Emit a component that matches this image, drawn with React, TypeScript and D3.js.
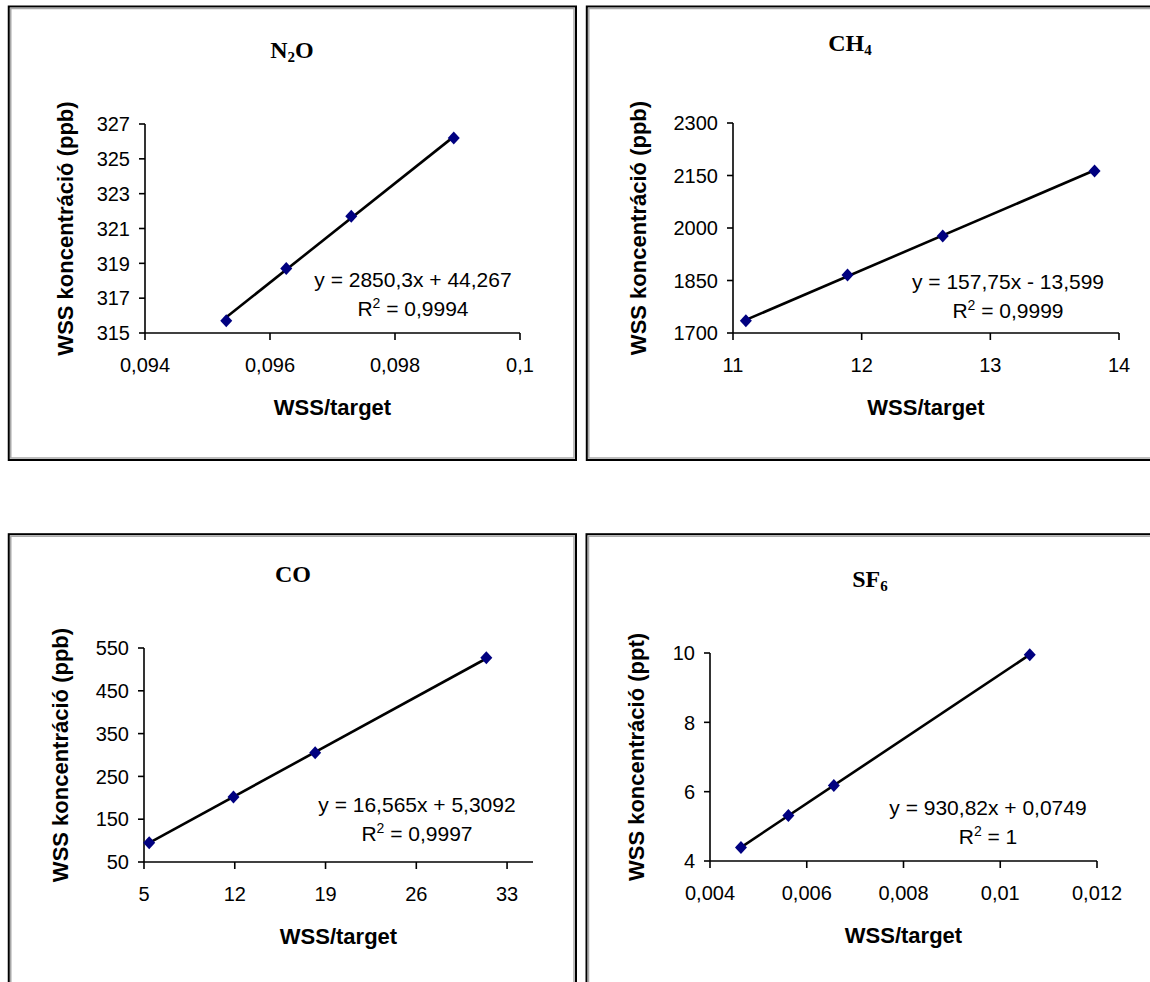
import React from "react";
import * as d3 from "d3";

// Calibration data: WSS/target ratio vs. WSS concentration, with linear fits
const n2oX = [0.0953, 0.09626, 0.0973, 0.09894];
const n2oY = [315.7, 318.7, 321.7, 326.2];
const n2oFit = [2850.3, 44.267];
const n2oR2 = "0,9994";
const n2oXTicks = [0.094, 0.096, 0.098, 0.1];
const n2oYTicks = [315, 317, 319, 321, 323, 325, 327];

const ch4X = [11.1, 11.89, 12.63, 13.81];
const ch4Y = [1735, 1866, 1977, 2163];
const ch4Fit = [157.75, -13.599];
const ch4R2 = "0,9999";
const ch4XTicks = [11, 12, 13, 14];
const ch4YTicks = [1700, 1850, 2000, 2150, 2300];

const coX = [5.4, 11.9, 18.2, 31.4];
const coY = [95, 202, 305, 527];
const coFit = [16.565, 5.3092];
const coR2 = "0,9997";
const coXTicks = [5, 12, 19, 26, 33];
const coYTicks = [50, 150, 250, 350, 450, 550];

const sf6X = [0.00464, 0.00562, 0.00656, 0.01061];
const sf6Y = [4.39, 5.31, 6.18, 9.95];
const sf6Fit = [930.82, 0.0749];
const sf6R2 = "1";
const sf6XTicks = [0.004, 0.006, 0.008, 0.01, 0.012];
const sf6YTicks = [4, 6, 8, 10];

const num = (v: number) => d3.format(".6~g")(v).replace(".", ",").replace("−", "-");

const SANS = "Arial, 'Liberation Sans', sans-serif";
const SERIF = "'Times New Roman', 'Liberation Serif', serif";

type PanelProps = {
  box: [number, number, number, number];
  plot: { left: number; right: number; bottom: number; top: number };
  xDomain: [number, number];
  yDomain: [number, number];
  xTicks: number[];
  yTicks: number[];
  xs: number[];
  ys: number[];
  fit: number[];
  r2: string;
  title: [string, string, string];
  titleX: number;
  titleY: number;
  yLabel: string;
  yLabelX: number;
  eqX: number;
  eqY: number;
};

function Panel(p: PanelProps) {
  const { plot } = p;
  const x = d3.scaleLinear().domain(p.xDomain).range([plot.left, plot.right]);
  const y = d3.scaleLinear().domain(p.yDomain).range([plot.bottom, plot.top]);
  const [slope, intercept] = p.fit;
  const xMin = d3.min(p.xs) as number;
  const xMax = d3.max(p.xs) as number;
  const fitLine = d3.line<number>()
    .x((d) => x(d))
    .y((d) => y(slope * d + intercept))([xMin, xMax]);
  const [bx0, by0, bx1, by1] = p.box;
  const eqText = `y = ${num(slope)}x ${intercept < 0 ? "-" : "+"} ${num(Math.abs(intercept))}`;
  const diamond = "M0,-6.5L6,0L0,6.5L-6,0Z";
  return (
    <g>
      <rect x={bx0} y={by0} width={bx1 - bx0} height={by1 - by0} fill="#fff" stroke="#000" strokeWidth={2} />
      <rect x={bx0 + 2} y={by0 + 2} width={bx1 - bx0 - 4} height={by1 - by0 - 4} fill="none" stroke="#a8a8a8" strokeWidth={1.5} />

      <text x={p.titleX} y={p.titleY} textAnchor="middle" fontFamily={SERIF} fontWeight="bold" fontSize={24}>
        {p.title[0]}
        {p.title[1] && (
          <tspan fontSize={15} dy={4}>{p.title[1]}</tspan>
        )}
        {p.title[2] && <tspan dy={-4}>{p.title[2]}</tspan>}
      </text>

      {/* y axis */}
      <line x1={plot.left} x2={plot.left} y1={plot.top} y2={plot.bottom} stroke="#000" strokeWidth={1.6} />
      {p.yTicks.map((t) => (
        <g key={"y" + t}>
          <line x1={plot.left - 6} x2={plot.left} y1={y(t)} y2={y(t)} stroke="#000" strokeWidth={1.6} />
          <text x={plot.left - 15} y={y(t)} dy="0.36em" textAnchor="end" fontFamily={SANS} fontSize={20}>
            {num(t)}
          </text>
        </g>
      ))}

      {/* x axis */}
      <line x1={plot.left} x2={x(p.xDomain[1])} y1={plot.bottom} y2={plot.bottom} stroke="#000" strokeWidth={1.6} />
      {p.xTicks.map((t) => (
        <g key={"x" + t}>
          <line x1={x(t)} x2={x(t)} y1={plot.bottom} y2={plot.bottom + 7} stroke="#000" strokeWidth={1.6} />
          <text x={x(t)} y={plot.bottom + 39} textAnchor="middle" fontFamily={SANS} fontSize={20}>
            {num(t)}
          </text>
        </g>
      ))}

      <text x={(plot.left + plot.right) / 2} y={plot.bottom + 82} textAnchor="middle" fontFamily={SANS} fontWeight="bold" fontSize={22}>
        WSS/target
      </text>
      <text
        transform={`translate(${p.yLabelX + 5.5},${(plot.top + plot.bottom) / 2}) rotate(-90)`}
        textAnchor="middle"
        fontFamily={SANS}
        fontWeight="bold"
        fontSize={22}
      >
        {p.yLabel}
      </text>

      {/* trendline and samples */}
      <path d={fitLine ?? ""} fill="none" stroke="#000" strokeWidth={2.6} />
      {p.xs.map((v, i) => (
        <path key={"m" + i} d={diamond} transform={`translate(${x(v)},${y(p.ys[i])})`} fill="#000080" />
      ))}

      <text x={p.eqX} y={p.eqY} textAnchor="middle" fontFamily={SANS} fontSize={21}>
        {eqText}
      </text>
      <text x={p.eqX} y={p.eqY + 29} textAnchor="middle" fontFamily={SANS} fontSize={21}>
        R<tspan fontSize={14} dy={-8}>2</tspan>
        <tspan dy={8}>{` = ${p.r2}`}</tspan>
      </text>
    </g>
  );
}

export default function App() {
  return (
    <div style={{ position: "absolute", left: 0, top: 0 }}>
      <svg width={1150} height={982} style={{ display: "block", background: "#fff" }}>
        <Panel
          box={[8.75, 6.5, 576, 460]}
          plot={{ left: 145, right: 520, bottom: 333, top: 124 }}
          xDomain={[0.094, 0.1]}
          yDomain={[315, 327]}
          xTicks={n2oXTicks}
          yTicks={n2oYTicks}
          xs={n2oX}
          ys={n2oY}
          fit={n2oFit}
          r2={n2oR2}
          title={["N", "2", "O"]}
          titleX={292}
          titleY={58}
          yLabel="WSS koncentráció (ppb)"
          yLabelX={67}
          eqX={413}
          eqY={287}
        />
        <Panel
          box={[586.8, 6.5, 1165, 460]}
          plot={{ left: 733, right: 1119, bottom: 333, top: 123 }}
          xDomain={[11, 14]}
          yDomain={[1700, 2300]}
          xTicks={ch4XTicks}
          yTicks={ch4YTicks}
          xs={ch4X}
          ys={ch4Y}
          fit={ch4Fit}
          r2={ch4R2}
          title={["CH", "4", ""]}
          titleX={850}
          titleY={51}
          yLabel="WSS koncentráció (ppb)"
          yLabelX={640}
          eqX={1008}
          eqY={289}
        />
        <Panel
          box={[8.75, 534.2, 576, 1000]}
          plot={{ left: 144, right: 533, bottom: 862, top: 648 }}
          xDomain={[5, 35]}
          yDomain={[50, 550]}
          xTicks={coXTicks}
          yTicks={coYTicks}
          xs={coX}
          ys={coY}
          fit={coFit}
          r2={coR2}
          title={["CO", "", ""]}
          titleX={293}
          titleY={582}
          yLabel="WSS koncentráció (ppb)"
          yLabelX={62}
          eqX={417}
          eqY={812}
        />
        <Panel
          box={[586.5, 534.2, 1165, 1000]}
          plot={{ left: 710, right: 1097, bottom: 861, top: 653 }}
          xDomain={[0.004, 0.012]}
          yDomain={[4, 10]}
          xTicks={sf6XTicks}
          yTicks={sf6YTicks}
          xs={sf6X}
          ys={sf6Y}
          fit={sf6Fit}
          r2={sf6R2}
          title={["SF", "6", ""]}
          titleX={870}
          titleY={587}
          yLabel="WSS koncentráció (ppt)"
          yLabelX={638}
          eqX={988}
          eqY={815}
        />
      </svg>
    </div>
  );
}
